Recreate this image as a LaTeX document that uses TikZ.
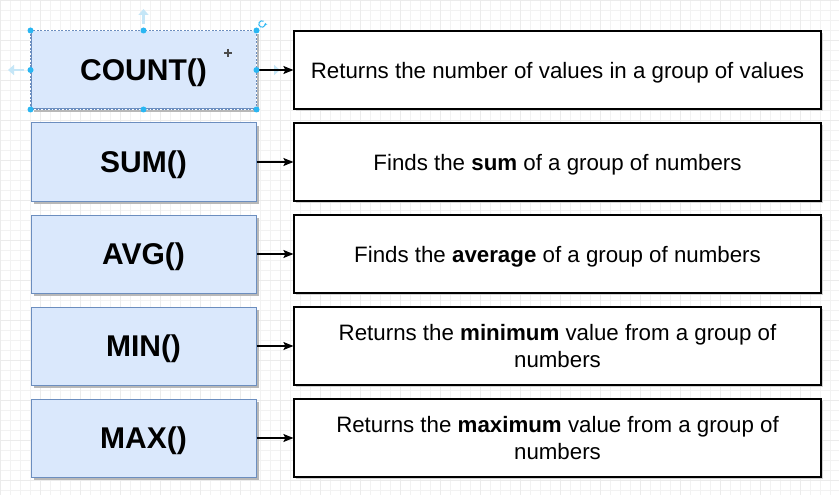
\documentclass[tikz,border=0pt]{standalone}
\usepackage{fontspec}
\setmainfont{Liberation Sans}
\usetikzlibrary{arrows.meta}
\definecolor{fnfill}{HTML}{DAE8FC}
\definecolor{fnline}{HTML}{6C8EBF}
\definecolor{handle}{HTML}{29B6F2}
\definecolor{paleblue}{HTML}{C5E6F7}
\tikzset{
  fnbox/.style={draw=fnline, fill=fnfill, line width=1pt, minimum width=225pt, minimum height=78pt, inner sep=0pt, text depth=0pt, font=\fontsize{30}{33}\selectfont\bfseries},
  descbox/.style={draw=black, fill=white, line width=1.2pt, minimum width=527pt, minimum height=78pt, inner sep=0pt, align=center, font=\fontsize{22.3}{27.5}\selectfont},
  onebox/.style={descbox, text depth=0pt},
  shadowbox/.style={fill=black!28},
  link/.style={-{Stealth[length=10pt,width=8pt,inset=2pt]}, line width=1.2pt},
  hdl/.style={circle, fill=handle, inner sep=0pt, minimum size=6pt}
}
\begin{document}
\begin{tikzpicture}[x=1pt,y=-1pt]
\useasboundingbox (0,0) rectangle (839,495);
\fill[white] (0,0) rectangle (839,495);
\draw[black!5, line width=0.5pt, step=10pt] (0,0) grid (839,495);
\draw[black!8, line width=0.6pt, step=40pt] (0,0) grid (839,495);
% shadows
\foreach \i in {0,...,4}{
  \fill[shadowbox] (34,{34+92*\i}) rectangle (259,{112+92*\i});
  \fill[black!18] (296,{33+92*\i}) rectangle (823,{111+92*\i});
}
\node[fnbox] (f1) at (143.5,70) {COUNT()};
\node[fnbox] (f2) at (143.5,162) {SUM()};
\node[fnbox] (f3) at (143.5,254) {AVG()};
\node[fnbox] (f4) at (143.5,346) {MIN()};
\node[fnbox] (f5) at (143.5,438) {MAX()};
\node[onebox] (d1) at (557.5,70) {Returns the number of values in a group of values};
\node[onebox] (d2) at (557.5,162) {Finds the \textbf{sum} of a group of numbers};
\node[onebox] (d3) at (557.5,254) {Finds the \textbf{average} of a group of numbers};
\node[descbox] (d4) at (557.5,346) {Returns the \textbf{minimum} value from a group of\\numbers};
\node[descbox] (d5) at (557.5,438) {Returns the \textbf{maximum} value from a group of\\numbers};
% selection of first box
\draw[white, line width=1.2pt] (f1.north west) rectangle (f1.south east);
\draw[fnline, line width=0.8pt, dash pattern=on 2pt off 1.5pt] (f1.north west) rectangle (f1.south east);
% pale guide arrows
\draw[paleblue, line width=2.5pt, -{Triangle[length=6pt,width=10pt]}] (143.5,24) -- (143.5,9);
\draw[paleblue, line width=2.5pt, -{Triangle[length=6pt,width=10pt]}] (24,70) -- (8,70);
\draw[paleblue, line width=2.5pt, -{Triangle[length=6pt,width=10pt]}] (263,70) -- (280,70);
\foreach \i in {1,...,5}{
  \draw[link] (f\i.east) -- (d\i.west);
}
\foreach \a in {north west,north,north east,west,east,south west,south,south east}{
  \node[hdl] at (f1.\a) {};
}
% rotate handle
\draw[handle, line width=1pt, -{Stealth[length=2.5pt,width=3pt]}] (262,24) ++(60:3.2pt) arc (60:380:3.2pt);
% move cursor
\draw[black!70, line width=1.2pt] (224,53) -- (232,53) (228,49) -- (228,57);
\end{tikzpicture}
\end{document}
